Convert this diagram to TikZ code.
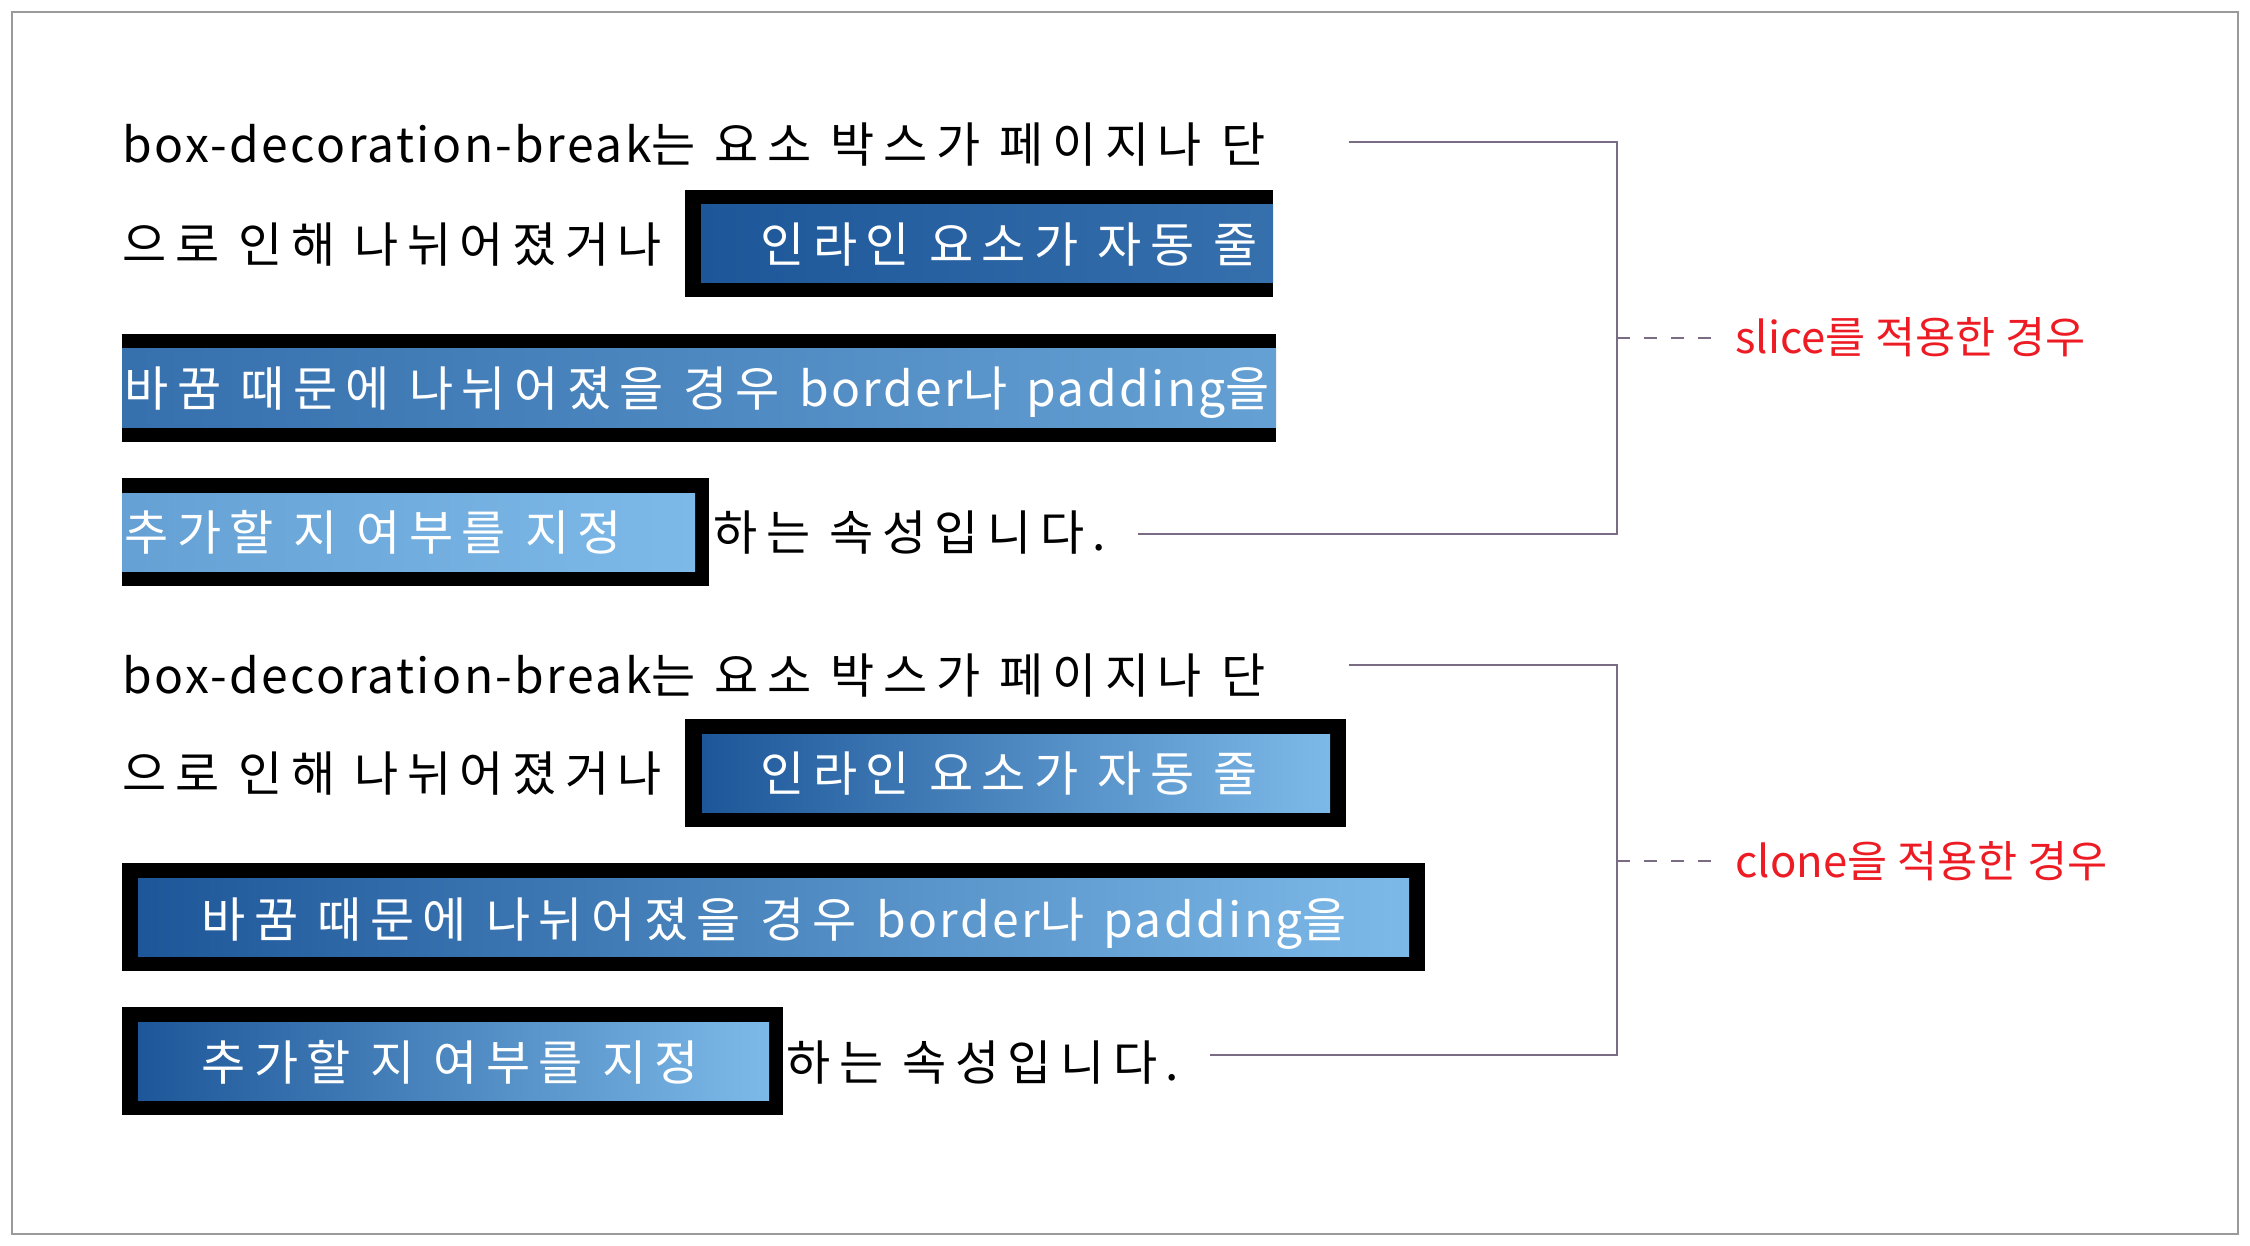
\documentclass[tikz,border=0pt]{standalone}
\usepackage{fontspec}
\usepackage{tikz}
\usetikzlibrary{positioning}
\newfontfamily\kofont[LetterSpace=17.7]{Noto Sans CJK KR}
\newfontfamily\enfont[LetterSpace=5]{Noto Sans CJK KR}
\newfontfamily\labelfont{Noto Sans CJK KR}
\newcommand\en[1]{{\enfont #1}}
\definecolor{gradA}{HTML}{1E5799}
\definecolor{gradB}{HTML}{7DB9E8}
\definecolor{framegray}{HTML}{9A9A9A}
\definecolor{brackgray}{HTML}{7A6C82}
\definecolor{labelred}{HTML}{ED1C24}
\tikzset{
  txtline/.style={inner sep=0pt, anchor=base west, font=\kofont\fontsize{24}{28}\selectfont},
  boxtxt/.style={txtline, text=white},
  caselabel/.style={inner sep=0pt, anchor=base west, text=labelred, font=\labelfont\fontsize{21.8}{25}\selectfont},
  bracketline/.style={draw=brackgray, line width=1.4pt},
  leaderline/.style={bracketline, dash pattern=on 6.5pt off 7pt},
}

\begin{document}
\begin{tikzpicture}[x=0.5pt,y=-0.5pt]
    \useasboundingbox (0,0) rectangle (2250,1246);
    \draw[framegray, line width=1.3pt] (12,12) rectangle (2238,1234);

    % slice
    \fill (685,190) rectangle (1273,297);
    \shade[left color=gradA, right color=gradB!25!gradA] (701,205) rectangle (1273,283);
    \fill (122,334) rectangle (1276,442);
    \shade[left color=gradB!25!gradA, right color=gradB!75!gradA] (122,349) rectangle (1276,427);
    \fill (122,478) rectangle (709,586);
    \shade[left color=gradB!75!gradA, right color=gradB] (122,493) rectangle (695,571);

    \node[txtline] (s1) at (122,163) {\en{box-decoration-break}는 요소 박스가 페이지나 단};
    \node[txtline] (s2) at (122,263) {으로 인해 나뉘어졌거나};
    \node[boxtxt] (s2b) at (760,263) {인라인 요소가 자동 줄};
    \node[boxtxt] (s3) at (124,407) {바꿈 때문에 나뉘어졌을 경우 \en{border}나 \en{padding}을};
    \node[boxtxt] (s4) at (124,550) {추가할 지 여부를 지정};
    \node[txtline] (s4b) at (713,550) {하는 속성입니다.};

    % clone
    \fill (685,719) rectangle (1346,827);
    \shade[left color=gradA, right color=gradB] (702,734) rectangle (1330,812);
    \fill (122,863) rectangle (1425,971);
    \shade[left color=gradA, right color=gradB] (138,878) rectangle (1409,956);
    \fill (122,1007) rectangle (783,1115);
    \shade[left color=gradA, right color=gradB] (138,1022) rectangle (769,1100);

    \node[txtline] (c1) at (122,693) {\en{box-decoration-break}는 요소 박스가 페이지나 단};
    \node[txtline] (c2) at (122,791) {으로 인해 나뉘어졌거나};
    \node[boxtxt] (c2b) at (760,791) {인라인 요소가 자동 줄};
    \node[boxtxt] (c3) at (201,937) {바꿈 때문에 나뉘어졌을 경우 \en{border}나 \en{padding}을};
    \node[boxtxt] (c4) at (201,1080) {추가할 지 여부를 지정};
    \node[txtline] (c4b) at (786,1080) {하는 속성입니다.};

    % brackets
    \coordinate (sTop) at (1349,142);
    \coordinate (sBot) at (1138,534);
    \coordinate (sMid) at (1617,338);
    \node[caselabel] (slab) at (1735,354) {slice를 적용한 경우};
    \draw[bracketline] (sTop) -- (sTop -| sMid) -- (sBot -| sMid) -- (sBot);
    \draw[leaderline, shorten >=11pt] (sMid) -- (sMid -| slab.west);

    \coordinate (cTop) at (1349,665);
    \coordinate (cBot) at (1210,1055);
    \coordinate (cMid) at (1617,861);
    \node[caselabel] (clab) at (1735,877) {clone을 적용한 경우};
    \draw[bracketline] (cTop) -- (cTop -| cMid) -- (cBot -| cMid) -- (cBot);
    \draw[leaderline, shorten >=11pt] (cMid) -- (cMid -| clab.west);
\end{tikzpicture}
\end{document}
